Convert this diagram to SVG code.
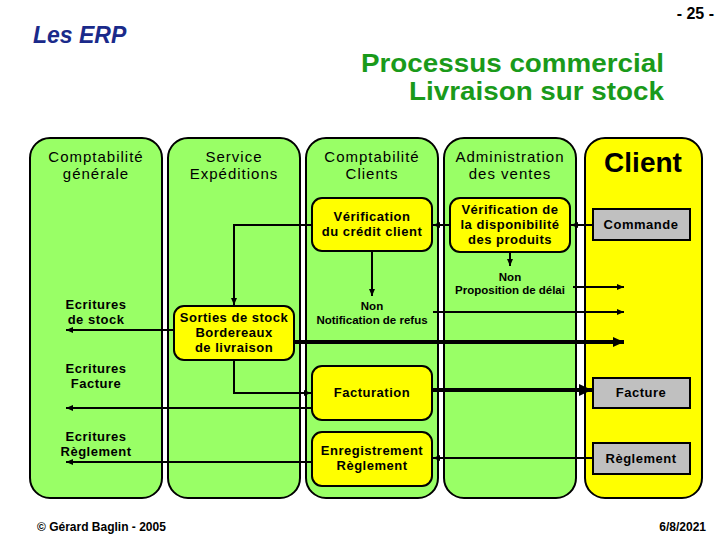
<svg xmlns="http://www.w3.org/2000/svg" width="720" height="540" viewBox="0 0 720 540">
<defs>
<marker id="ah" markerUnits="userSpaceOnUse" markerWidth="8" markerHeight="8" refX="7" refY="4" orient="auto"><path d="M0,1 L7,4 L0,7 Z" fill="#000"/></marker>
<marker id="ahb" markerUnits="userSpaceOnUse" markerWidth="14" markerHeight="14" refX="13" refY="7" orient="auto"><path d="M0,1 L13,7 L0,13 Z" fill="#000"/></marker>
<marker id="ahm" markerUnits="userSpaceOnUse" markerWidth="12" markerHeight="12" refX="11" refY="6" orient="auto"><path d="M0,1 L11,6 L0,11 Z" fill="#000"/></marker>
</defs>
<style>
.lane{fill:#99ff66;stroke:#000;stroke-width:2}
.lanec{fill:#ffff00;stroke:#000;stroke-width:2}
.box{fill:#ffff00;stroke:#000;stroke-width:2}
.doc{fill:#c0c0c0;stroke:#000;stroke-width:2}
.hd{font-family:"Liberation Sans",Arial,sans-serif;font-size:15px;letter-spacing:1px;fill:#000;text-anchor:middle}
.bt{font-family:"Liberation Sans",Arial,sans-serif;font-size:13px;font-weight:bold;letter-spacing:0.5px;fill:#000;text-anchor:middle}
.st{font-family:"Liberation Sans",Arial,sans-serif;font-size:11.5px;font-weight:bold;fill:#000;text-anchor:middle}
.ln{fill:none;stroke:#000;stroke-width:2}
.tk{fill:none;stroke:#000;stroke-width:4}
</style>
<rect width="720" height="540" fill="#fff"/>
<g id="titles">
<text x="33" y="43" font-family="Liberation Sans,Arial,sans-serif" font-size="23" font-weight="bold" font-style="italic" fill="#1a2a8a">Les ERP</text>
<text x="714" y="19" font-family="Liberation Sans,Arial,sans-serif" font-size="16" font-weight="bold" text-anchor="end" fill="#000">- 25 -</text>
<text x="664" y="72" font-family="Liberation Sans,Arial,sans-serif" font-size="25" font-weight="bold" text-anchor="end" fill="#1a9a1a" textLength="303" lengthAdjust="spacingAndGlyphs">Processus commercial</text>
<text x="664" y="100" font-family="Liberation Sans,Arial,sans-serif" font-size="25" font-weight="bold" text-anchor="end" fill="#1a9a1a" textLength="255" lengthAdjust="spacingAndGlyphs">Livraison sur stock</text>
<text x="37" y="531" font-family="Liberation Sans,Arial,sans-serif" font-size="12" font-weight="bold" fill="#000">© Gérard Baglin - 2005</text>
<text x="706" y="531" font-family="Liberation Sans,Arial,sans-serif" font-size="12" font-weight="bold" text-anchor="end" fill="#000">6/8/2021</text>
</g>
<g id="lane-compta-generale">
<rect class="lane" x="30" y="138" width="132" height="360" rx="20"/>
<text class="hd" x="96" y="162">Comptabilité</text>
<text class="hd" x="96" y="179">générale</text>
<text class="bt" x="96" y="309">Ecritures</text>
<text class="bt" x="96" y="324">de stock</text>
<text class="bt" x="96" y="373">Ecritures</text>
<text class="bt" x="96" y="388">Facture</text>
<text class="bt" x="96" y="441">Ecritures</text>
<text class="bt" x="96" y="456">Règlement</text>
</g>
<g id="lane-expeditions">
<rect class="lane" x="168" y="138" width="132" height="360" rx="20"/>
<text class="hd" x="234" y="162">Service</text>
<text class="hd" x="234" y="179">Expéditions</text>
</g>
<g id="lane-compta-clients">
<rect class="lane" x="306" y="138" width="132" height="360" rx="20"/>
<text class="hd" x="372" y="162">Comptabilité</text>
<text class="hd" x="372" y="179">Clients</text>
</g>
<g id="lane-adv">
<rect class="lane" x="444" y="138" width="132" height="360" rx="20"/>
<text class="hd" x="510" y="162">Administration</text>
<text class="hd" x="510" y="179">des ventes</text>
</g>
<g id="lane-client">
<rect class="lanec" x="585" y="138" width="117" height="360" rx="20"/>
<text x="643" y="172" font-family="Liberation Sans,Arial,sans-serif" font-size="28" font-weight="bold" text-anchor="middle" fill="#000">Client</text>
</g>
<g id="verif-credit">
<rect class="box" x="312" y="198" width="120" height="53" rx="10"/>
<text class="bt" x="372" y="221">Vérification</text>
<text class="bt" x="372" y="236">du crédit client</text>
</g>
<g id="verif-dispo">
<rect class="box" x="450" y="198" width="120" height="54" rx="10"/>
<text class="bt" x="510" y="214">Vérification de</text>
<text class="bt" x="510" y="229">la disponibilité</text>
<text class="bt" x="510" y="244">des produits</text>
</g>
<g id="commande">
<rect class="doc" x="593" y="209" width="97" height="31"/>
<text class="bt" x="641" y="229">Commande</text>
</g>
<g id="sorties">
<rect class="box" x="174" y="306" width="120" height="54" rx="10"/>
<text class="bt" x="234" y="322">Sorties de stock</text>
<text class="bt" x="234" y="337">Bordereaux</text>
<text class="bt" x="234" y="352">de livraison</text>
</g>
<g id="facturation">
<rect class="box" x="312" y="366" width="120" height="54" rx="10"/>
<text class="bt" x="372" y="397">Facturation</text>
</g>
<g id="enregistrement">
<rect class="box" x="312" y="432" width="120" height="54" rx="10"/>
<text class="bt" x="372" y="455">Enregistrement</text>
<text class="bt" x="372" y="470">Règlement</text>
</g>
<g id="facture">
<rect class="doc" x="593" y="378" width="97" height="30"/>
<text class="bt" x="641" y="397">Facture</text>
</g>
<g id="reglement">
<rect class="doc" x="593" y="443" width="97" height="31"/>
<text class="bt" x="641" y="463">Règlement</text>
</g>
<g id="labels">
<text class="st" x="372" y="310">Non</text>
<text class="st" x="372" y="324">Notification de refus</text>
<text class="st" x="510" y="281">Non</text>
<text class="st" x="510" y="294">Proposition de délai</text>
</g>
<g id="connectors">
<line class="ln" x1="593" y1="225" x2="571" y2="225" marker-end="url(#ah)"/>
<line class="ln" x1="450" y1="225" x2="433" y2="225" marker-end="url(#ah)"/>
<polyline class="ln" points="312,225 234,225 234,305" marker-end="url(#ah)"/>
<line class="ln" x1="372" y1="251" x2="372" y2="296" marker-end="url(#ah)"/>
<line class="ln" x1="510" y1="252" x2="510" y2="266" marker-end="url(#ah)"/>
<line class="ln" x1="573" y1="287" x2="624" y2="287" marker-end="url(#ah)"/>
<line class="ln" x1="433" y1="312" x2="624" y2="312" marker-end="url(#ah)"/>
<line class="tk" x1="294" y1="342" x2="624" y2="342" marker-end="url(#ahm)"/>
<line class="ln" x1="174" y1="330" x2="66" y2="330" marker-end="url(#ah)"/>
<polyline class="ln" points="234,360 234,393 311,393" marker-end="url(#ah)"/>
<line class="ln" x1="312" y1="408" x2="66" y2="408" marker-end="url(#ah)"/>
<line class="ln" x1="312" y1="462" x2="66" y2="462" marker-end="url(#ah)"/>
<line class="tk" x1="432" y1="390" x2="592" y2="390" marker-end="url(#ahb)"/>
<line class="ln" x1="593" y1="458" x2="433" y2="458" marker-end="url(#ah)"/>
</g>
</svg>
